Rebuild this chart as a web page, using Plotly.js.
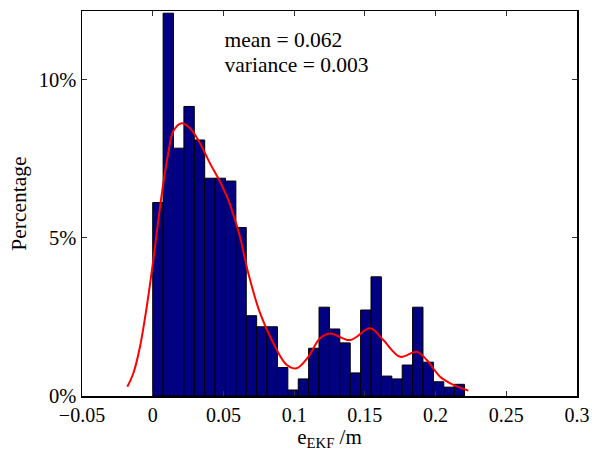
<!DOCTYPE html>
<html>
<head>
<meta charset="utf-8">
<script src="https://cdn.plot.ly/plotly-3.0.1.min.js"></script>
<style>html,body{margin:0;padding:0;background:#fff;}#chart{width:592px;height:451px;}</style>
</head>
<body>
<div id="chart"></div>
<script>
// Histogram of e_EKF (percentage per bin)
const binStart = 0;
const binWidth = 0.00735;
const binPercent = [6.12, 12.11, 7.84, 9.16, 8.10, 6.89, 6.89, 6.80, 5.33, 2.54,
                    2.19, 2.19, 0.90, 0.19, 0.54, 1.51, 2.81, 2.12, 1.68, 0.73,
                    2.72, 3.77, 0.63, 0.54, 0.98, 2.81, 1.07, 0.45, 0.28, 0.37];
// Kernel density curve (percentage)
const curveX = [-0.0180, -0.0137, -0.0090, -0.0042, 0.0004, 0.0040, 0.0075, 0.0110, 0.0146, 0.0205,
                0.0264, 0.0334, 0.0405, 0.0476, 0.0535, 0.0582, 0.0617, 0.0676, 0.0759, 0.0853,
                0.0948, 0.1018, 0.1100, 0.1183, 0.1254, 0.1395, 0.1537, 0.1630, 0.1750, 0.1867,
                0.1938, 0.2032, 0.2126, 0.2232];
const curveY = [0.29, 0.72, 1.56, 2.83, 4.30, 5.57, 6.73, 7.68, 8.38, 8.63,
                8.47, 8.00, 7.36, 6.78, 6.20, 5.57, 5.04, 3.88, 2.62, 1.67,
                0.98, 0.88, 1.24, 1.83, 1.98, 1.77, 2.14, 1.77, 1.24, 1.40,
                1.14, 0.61, 0.35, 0.17];
const xTickVals = [-0.05, 0, 0.05, 0.1, 0.15, 0.2, 0.25, 0.3];
const xTickText = ['\u22120.05', '0', '0.05', '0.1', '0.15', '0.2', '0.25', '0.3'];
const yTickVals = [0, 5, 10];
const yTickText = ['0%', '5%', '10%'];
const statsText = ['mean = 0.062', 'variance = 0.003'];
const statsX = [0.0508, 0.0508];
const statsY = [11.22, 10.42];

const binCenters = binPercent.map((_, i) => binStart + binWidth * (i + 0.5));

const FAM = 'Liberation Serif';
function f(size) { return {family: FAM, size: size, color: '#000000'}; }

const traces = [
  {
    type: 'bar', x: binCenters, y: binPercent, width: binWidth,
    marker: {color: '#000080', line: {color: '#000000', width: 1}},
    hoverinfo: 'skip'
  },
  {
    type: 'scatter', mode: 'lines', x: curveX, y: curveY,
    line: {color: '#ff0000', width: 2, shape: 'spline', smoothing: 1},
    hoverinfo: 'skip'
  },
  {
    type: 'scatter', mode: 'text', x: statsX, y: statsY, text: statsText,
    textposition: 'middle right', textfont: f(21.5),
    hoverinfo: 'skip', cliponaxis: false
  }
];

const layout = {
  width: 592, height: 451,
  margin: {l: 82, r: 15, t: 11, b: 55},
  paper_bgcolor: '#ffffff', plot_bgcolor: '#ffffff',
  showlegend: false,
  bargap: 0,
  font: f(20),
  xaxis: {
    range: [-0.05, 0.3], tickmode: 'array', tickvals: xTickVals, ticktext: xTickText,
    ticks: 'inside', ticklen: 5, tickcolor: '#333333', tickwidth: 1,
    showline: true, linecolor: '#000000', linewidth: 1.5, mirror: 'ticks',
    showgrid: false, zeroline: false,
    tickfont: f(20),
    title: {text: 'e<sub>EKF</sub> /m', font: f(21), standoff: 4}
  },
  yaxis: {
    range: [0, 12.18], tickmode: 'array', tickvals: yTickVals, ticktext: yTickText,
    ticks: 'inside', ticklen: 5, tickcolor: '#333333', tickwidth: 1,
    showline: true, linecolor: '#000000', linewidth: 1.5, mirror: 'ticks',
    showgrid: false, zeroline: false,
    tickfont: f(20.5),
    title: {text: 'Percentage', font: f(21.5), standoff: 6}
  }
};

Plotly.newPlot('chart', traces, layout, {displayModeBar: false, staticPlot: true});
</script>
</body>
</html>
